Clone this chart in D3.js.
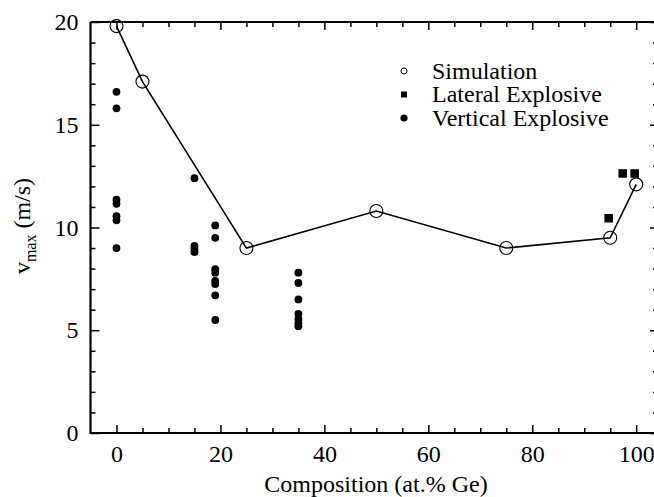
<!DOCTYPE html>
<html>
<head>
<meta charset="utf-8">
<script src="https://cdn.jsdelivr.net/npm/d3@7"></script>
<style>
  body { margin: 0; background: #fff; }
  svg text { font-family: "Liberation Serif", "Times New Roman", serif; fill: #000; }
</style>
</head>
<body>
<div id="chart"></div>
<script>
// data (composition in at.% Ge, v_max in m/s)
const simX = [0, 5, 25, 50, 75, 95, 100];
const simY = [19.8, 17.1, 9.0, 10.8, 9.0, 9.5, 12.1];

const latX = [94.7, 97.4, 99.7];
const latY = [10.45, 12.63, 12.63];

const vertX = [0, 0, 0, 0, 0, 0, 0,
               15, 15, 15, 15,
               19, 19, 19, 19, 19, 19, 19, 19,
               35, 35, 35, 35, 35, 35, 35];
const vertY = [16.6, 15.8, 11.35, 11.15, 10.55, 10.35, 9.0,
               12.4, 9.1, 8.95, 8.8,
               10.1, 9.5, 7.97, 7.8, 7.4, 7.25, 6.7, 5.5,
               7.8, 7.3, 6.5, 5.8, 5.55, 5.35, 5.2];

const legendLabels = ["Simulation", "Lateral Explosive", "Vertical Explosive"];
const xTicks = [0, 20, 40, 60, 80, 100];
const yTicks = [0, 5, 10, 15, 20];

const width = 654, height = 497;
const mLeft = 90.5, mRight = 657, mTop = 22, mBottom = 433;
const fs = 24;

const svg = d3.select('#chart').append('svg')
    .attr('width', width)
    .attr('height', height);

const x = d3.scaleLinear([-5, 104], [mLeft, mRight]);
const y = d3.scaleLinear([0, 20], [mBottom, mTop]);

const minorX = d3.range(0, 104, 5).filter(v => !xTicks.includes(v));
const minorY = d3.range(1, 20, 1).filter(v => !yTicks.includes(v));

// axes: inward ticks on all four sides
function drawAxis(axisFn, scale, pos, major, minor, majLen, minLen, pad, labels){
    const g = svg.append('g').attr('transform', pos);
    g.call(axisFn(scale).tickValues(minor).tickSize(-minLen).tickFormat(''));
    const gm = svg.append('g').attr('transform', pos);
    gm.call(axisFn(scale).tickValues(major).tickSize(-majLen).tickPadding(pad)
        .tickFormat(labels ? d3.format('d') : ''));
    [g, gm].forEach(s => {
        s.selectAll('.domain').remove();
        s.selectAll('line').attr('stroke', '#000').attr('stroke-width', 1.5);
        s.attr('font-family', null);
    });
    return gm;
}

const xb = drawAxis(d3.axisBottom, x, `translate(0,${mBottom})`, xTicks, minorX, 8, 5, 12, true);
xb.selectAll('text').attr('font-size', fs);
drawAxis(d3.axisTop, x, `translate(0,${mTop})`, xTicks, minorX, 8, 5, 0, false);
const yl = drawAxis(d3.axisLeft, y, `translate(${mLeft},0)`, yTicks, minorY, 9, 5, 12, true);
yl.selectAll('text').attr('font-size', fs);
drawAxis(d3.axisRight, y, `translate(${mRight},0)`, yTicks, minorY, 7, 4, 0, false);

// frame
svg.append('path')
    .attr('d', `M${mLeft},${mTop}H${mRight}M${mLeft},${mTop}V${mBottom}H${mRight}`)
    .attr('fill', 'none').attr('stroke', '#000').attr('stroke-width', 2.2);

// simulation line + open circles
const sim = simX.map((v, i) => [v, simY[i]]);
svg.append('path')
    .datum(sim)
    .attr('fill', 'none')
    .attr('stroke', '#000')
    .attr('stroke-width', 1.6)
    .attr('d', d3.line().x(d => x(d[0])).y(d => y(d[1])));

svg.append('g').selectAll('circle')
    .data(sim)
    .join('circle')
    .attr('cx', d => x(d[0]))
    .attr('cy', d => y(d[1]))
    .attr('r', 6.5)
    .attr('fill', 'none')
    .attr('stroke', '#000')
    .attr('stroke-width', 1.1);

// vertical explosive
svg.append('g').selectAll('circle')
    .data(vertX.map((v, i) => [v, vertY[i]]))
    .join('circle')
    .attr('cx', d => x(d[0]))
    .attr('cy', d => y(d[1]))
    .attr('r', 3.9)
    .attr('fill', '#000');

// lateral explosive
const sq = 8.5;
svg.append('g').selectAll('rect')
    .data(latX.map((v, i) => [v, latY[i]]))
    .join('rect')
    .attr('x', d => x(d[0]) - sq / 2)
    .attr('y', d => y(d[1]) - sq / 2)
    .attr('width', sq)
    .attr('height', sq)
    .attr('fill', '#000');

// legend
const leg = svg.append('g').attr('transform', 'translate(404,71)');
const rowH = 23.5;
leg.append('circle').attr('cx', 0).attr('cy', 0).attr('r', 3).attr('fill', 'none')
    .attr('stroke', '#000').attr('stroke-width', 1);
leg.append('rect').attr('x', -3).attr('y', rowH - 3).attr('width', 6).attr('height', 6).attr('fill', '#000');
leg.append('circle').attr('cx', 0).attr('cy', rowH * 2).attr('r', 3.6).attr('fill', '#000');
leg.selectAll('text.lbl')
    .data(legendLabels)
    .join('text')
    .classed('lbl', true)
    .attr('x', 28)
    .attr('y', (d, i) => i * rowH)
    .attr('dy', '0.33em')
    .attr('font-size', fs)
    .text(d => d);

// axis titles
svg.append('text')
    .attr('x', 376)
    .attr('y', 492)
    .attr('text-anchor', 'middle')
    .attr('font-size', fs)
    .text('Composition (at.% Ge)');

const yt = svg.append('text')
    .attr('transform', 'translate(30,226) rotate(-90)')
    .attr('text-anchor', 'middle')
    .attr('font-size', fs);
yt.append('tspan').text('v');
yt.append('tspan').attr('font-size', 16).attr('dy', 6).text('max');
yt.append('tspan').attr('dy', -6).text(' (m/s)');
</script>
</body>
</html>
